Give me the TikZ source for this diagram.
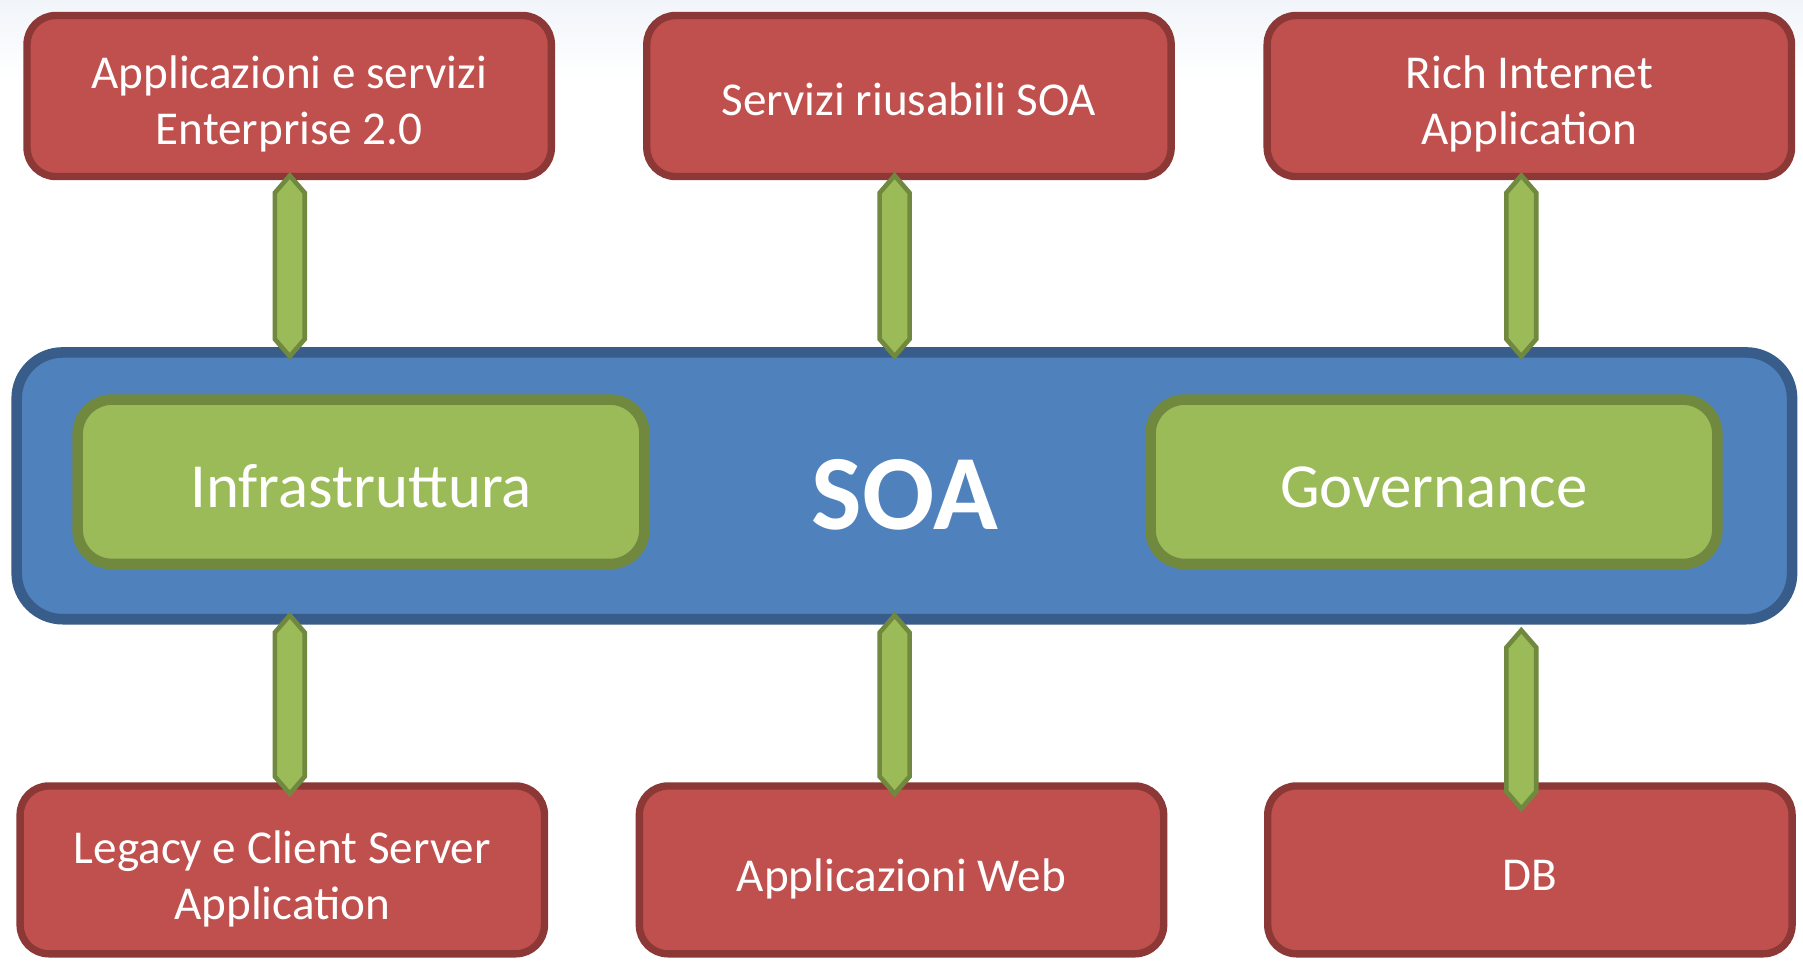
\documentclass[tikz,border=0pt]{standalone}
\usepackage{fontspec}
\setmainfont{Carlito}
\usetikzlibrary{calc}

\definecolor{redfill}{HTML}{C0504D}
\definecolor{redline}{HTML}{8C3836}
\definecolor{bluefill}{HTML}{4F81BD}
\definecolor{blueline}{HTML}{385D8A}
\definecolor{greenfill}{HTML}{9BBB59}
\definecolor{greenline}{HTML}{71893F}
\definecolor{skytop}{HTML}{F1F5FA}

\tikzset{
  appbox/.style={draw=redline, fill=redfill, line width=3.2pt,
    rounded corners=12.5pt, minimum width=228pt, minimum height=70pt,
    inner sep=0pt},
  bottombox/.style={appbox, minimum height=73pt},
  apptext/.style={text=white, align=center, inner sep=0pt,
    font=\fontsize{20.5}{24.5}\selectfont},
  soabox/.style={draw=blueline, fill=bluefill, line width=4.6pt,
    rounded corners=20pt, minimum width=772pt, minimum height=116pt,
    inner sep=0pt},
  partbox/.style={draw=greenline, fill=greenfill, line width=4.6pt,
    rounded corners=15pt, minimum width=246.5pt, minimum height=71.5pt,
    inner sep=0pt},
  parttext/.style={text=white, inner sep=0pt,
    font=\fontsize{27.3}{32}\selectfont},
  soalabel/.style={text=white, inner sep=0pt,
    font=\fontsize{46.5}{50}\selectfont\bfseries},
  linkarrow/.style={draw=greenline, fill=greenfill, line width=2pt,
    line join=miter}
}

% double-pointed link between two tip points
\newcommand\hexlink[2]{%
  \draw[linkarrow] (#1) -- ($(#1)+(13,15)$) -- ($(#2)+(13,-15)$) -- (#2)
    -- ($(#2)+(-13,-15)$) -- ($(#1)+(-13,15)$) -- cycle;}

\begin{document}
\begin{tikzpicture}[x=0.5pt, y=-0.5pt]
  \useasboundingbox (0,0) rectangle (1568,835);
  \fill[white] (0,0) rectangle (1568,835);
  \shade[top color=skytop, bottom color=white] (0,0) rectangle (1568,70);

  % upper layer
  \node[appbox] (t1) at (251.5,83.5) {};
  \node[appbox] (t2) at (790.5,83.5) {};
  \node[appbox] (t3) at (1330,83.5) {};
  \node[apptext] (t1l) at ($(t1)+(0,7)$) {Applicazioni e servizi\\Enterprise 2.0};
  \node[apptext] (t2l) at ($(t2)+(0,3)$) {Servizi riusabili SOA};
  \node[apptext] (t3l) at ($(t3)+(0,7)$) {Rich Internet\\Application};

  % central SOA block
  \node[soabox] (soa) at (786.5,422.5) {};
  \node[partbox] (infra) at (314,419) {};
  \node[partbox] (gov) at (1247,419) {};
  \node[parttext] (infral) at ($(infra)+(0,4)$) {Infrastruttura};
  \node[parttext] (govl) at ($(gov)+(0,5)$) {Governance};
  \node[soalabel] (soatext) at (787,430) {SOA};

  % lower layer
  \node[bottombox] (b1) at (245.5,756.5) {};
  \node[bottombox] (b2) at (784,756.5) {};
  \node[bottombox] (b3) at (1330.5,756.5) {};
  \node[apptext] (b1l) at ($(b1)+(0,8)$) {Legacy e Client Server\\Application};
  \node[apptext] (b2l) at ($(b2)+(0,8)$) {Applicazioni Web};
  \node[apptext] (b3l) at ($(b3)+(0,5)$) {DB};

  % links between layers
  \hexlink{$(t1.south)+(0.5,-4)$}{$(soa.north -| t1.south)+(0.5,8)$}
  \hexlink{$(t2.south)+(-12.5,-4)$}{$(soa.north -| t2.south)+(-12.5,8)$}
  \hexlink{$(t3.south)+(-7,-4)$}{$(soa.north -| t3.south)+(-7,8)$}

  \hexlink{$(soa.south -| b1.north)+(6.5,-8)$}{$(b1.north)+(6.5,10)$}
  \hexlink{$(soa.south -| b2.north)+(-6,-8)$}{$(b2.north)+(-6,10)$}
  \hexlink{$(soa.south -| b3.north)+(-7.5,5)$}{$(b3.north)+(-7.5,23)$}
\end{tikzpicture}
\end{document}
